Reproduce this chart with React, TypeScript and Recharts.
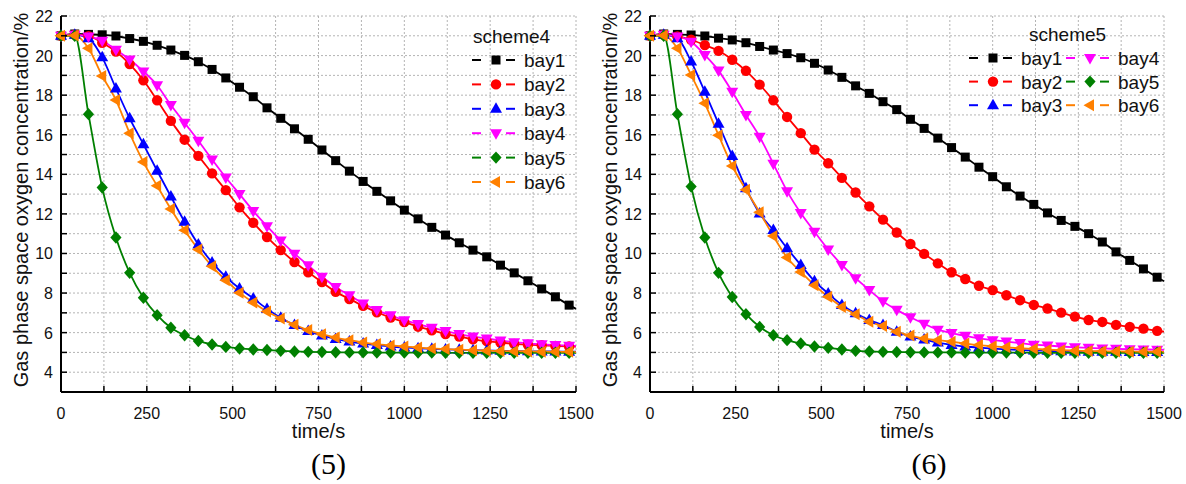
import React from 'react';
import { LineChart, Line, XAxis, YAxis, CartesianGrid, Legend } from 'recharts';

// sampling times (s); markers every 40 s, last row only carries the line to the edge
const time = [0, 40, 80, 120, 160, 200, 240, 280, 320, 360, 400, 440, 480, 520, 560, 600, 640, 680, 720, 760,
    800, 840, 880, 920, 960, 1000, 1040, 1080, 1120, 1160, 1200, 1240, 1280, 1320, 1360, 1400, 1440, 1480, 1500];

// scheme4
const s4Bay1 = [21.0, 21.09, 21.07, 21.05, 20.99, 20.86, 20.72, 20.52, 20.28, 20.01, 19.69, 19.3, 18.87, 18.4, 17.92, 17.36, 16.83, 16.3, 15.77, 15.23,
    14.69, 14.16, 13.64, 13.14, 12.66, 12.19, 11.75, 11.32, 10.93, 10.54, 10.17, 9.83, 9.41, 9.02, 8.62, 8.21, 7.81, 7.39, 7.2];
const s4Bay2 = [21.0, 21.05, 20.98, 20.65, 20.2, 19.57, 18.75, 17.74, 16.7, 15.75, 14.93, 14.05, 13.2, 12.33, 11.55, 10.83, 10.17, 9.57, 9.05, 8.55,
    8.06, 7.7, 7.35, 7.03, 6.76, 6.53, 6.3, 6.12, 5.93, 5.8, 5.66, 5.57, 5.5, 5.43, 5.39, 5.36, 5.33, 5.3, 5.29];
const s4Bay3 = [21.0, 21.05, 20.87, 19.91, 18.34, 16.83, 15.52, 14.18, 12.88, 11.6, 10.45, 9.55, 8.82, 8.23, 7.73, 7.2, 6.75, 6.38, 6.08, 5.86,
    5.68, 5.55, 5.45, 5.37, 5.3, 5.25, 5.21, 5.18, 5.15, 5.13, 5.11, 5.1, 5.08, 5.07, 5.06, 5.05, 5.05, 5.04, 5.04];
const s4Bay4 = [21.0, 21.05, 20.97, 20.75, 20.3, 19.8, 19.2, 18.5, 17.5, 16.6, 15.7, 14.75, 13.84, 13.0, 12.15, 11.38, 10.65, 9.99, 9.4, 8.82,
    8.31, 7.89, 7.47, 7.14, 6.88, 6.63, 6.43, 6.25, 6.08, 5.93, 5.8, 5.7, 5.6, 5.52, 5.46, 5.41, 5.37, 5.34, 5.33];
const s4Bay5 = [21.0, 21.0, 17.04, 13.33, 10.81, 9.02, 7.76, 6.88, 6.25, 5.87, 5.58, 5.4, 5.28, 5.2, 5.15, 5.12, 5.08, 5.05, 5.03, 5.02,
    5.01, 5.0, 5.0, 4.99, 4.99, 4.99, 4.99, 4.99, 4.98, 4.98, 4.98, 4.98, 4.98, 4.98, 4.98, 4.98, 4.98, 4.98, 4.98];
const s4Bay6 = [21.0, 21.02, 20.37, 18.97, 17.75, 16.08, 14.62, 13.42, 12.25, 11.17, 10.2, 9.35, 8.65, 8.02, 7.52, 7.07, 6.72, 6.4, 6.13, 5.92,
    5.75, 5.62, 5.5, 5.42, 5.35, 5.3, 5.25, 5.2, 5.17, 5.14, 5.11, 5.09, 5.07, 5.06, 5.05, 5.04, 5.03, 5.03, 5.02];

// scheme5
const s5Bay1 = [21.0, 21.09, 21.07, 21.04, 20.99, 20.88, 20.79, 20.65, 20.46, 20.28, 20.1, 19.89, 19.61, 19.27, 18.9, 18.47, 18.09, 17.67, 17.27, 16.78,
    16.32, 15.83, 15.35, 14.87, 14.36, 13.88, 13.37, 12.9, 12.48, 12.05, 11.67, 11.37, 11.0, 10.58, 10.08, 9.65, 9.22, 8.8, 8.6];
const s5Bay2 = [21.0, 21.05, 20.97, 20.8, 20.53, 20.24, 19.79, 19.23, 18.53, 17.74, 16.9, 16.08, 15.25, 14.56, 13.82, 13.08, 12.38, 11.71, 11.06, 10.48,
    9.98, 9.5, 9.05, 8.71, 8.37, 8.15, 7.89, 7.64, 7.4, 7.22, 7.01, 6.81, 6.64, 6.54, 6.39, 6.29, 6.2, 6.09, 6.05];
const s5Bay3 = [21.0, 21.05, 20.87, 19.7, 18.17, 16.55, 14.92, 13.3, 12.02, 11.18, 10.26, 9.42, 8.6, 7.98, 7.4, 6.98, 6.64, 6.38, 6.05, 5.8,
    5.65, 5.5, 5.38, 5.3, 5.24, 5.19, 5.15, 5.12, 5.1, 5.08, 5.06, 5.05, 5.04, 5.03, 5.03, 5.02, 5.02, 5.02, 5.01];
const s5Bay4 = [21.0, 21.05, 20.97, 20.7, 20.03, 19.24, 18.17, 17.0, 15.9, 14.53, 13.15, 12.04, 11.1, 10.2, 9.42, 8.75, 8.15, 7.58, 7.15, 6.78,
    6.45, 6.15, 5.98, 5.84, 5.71, 5.62, 5.55, 5.47, 5.39, 5.35, 5.3, 5.26, 5.23, 5.2, 5.18, 5.16, 5.15, 5.14, 5.13];
const s5Bay5 = [21.0, 21.0, 17.04, 13.38, 10.81, 9.02, 7.8, 6.93, 6.29, 5.87, 5.62, 5.45, 5.3, 5.23, 5.15, 5.08, 5.05, 5.03, 5.02, 5.01,
    5.0, 5.0, 5.0, 4.99, 4.99, 4.99, 4.99, 4.99, 4.98, 4.98, 4.98, 4.98, 4.98, 4.98, 4.98, 4.98, 4.98, 4.98, 4.98];
const s5Bay6 = [21.0, 21.02, 20.37, 19.02, 17.59, 15.98, 14.42, 13.22, 12.08, 10.88, 9.8, 9.07, 8.4, 7.81, 7.3, 6.93, 6.55, 6.33, 6.05, 5.85,
    5.7, 5.62, 5.54, 5.45, 5.37, 5.31, 5.26, 5.21, 5.18, 5.14, 5.11, 5.09, 5.07, 5.06, 5.05, 5.04, 5.04, 5.03, 5.03];

const bayNames = ['bay1', 'bay2', 'bay3', 'bay4', 'bay5', 'bay6'];
const bayColors = ['#000000', '#ff0000', '#0000ff', '#ff00ff', '#008000', '#ff8000'];
const bayShapes = ['square', 'circle', 'up', 'down', 'diamond', 'left'];

const xTicks = [0, 125, 250, 375, 500, 625, 750, 875, 1000, 1125, 1250, 1375, 1500];
const yTicks = [3, 4, 5, 6, 7, 8, 9, 10, 11, 12, 13, 14, 15, 16, 17, 18, 19, 20, 21, 22];

const FONT = '"Liberation Sans", Arial, sans-serif';
const SERIF = '"Liberation Serif", "Times New Roman", serif';

function buildRows(series: number[][]) {
    return time.map((t, i) => {
        const row: any = { t };
        series.forEach((s, k) => { row[bayNames[k]] = s[i]; });
        return row;
    });
}

function Marker({ cx, cy, shape, color }: any) {
    switch (shape) {
        case 'square':
            return <rect x={cx - 4.5} y={cy - 4.5} width={9} height={9} fill={color} />;
        case 'circle':
            return <circle cx={cx} cy={cy} r={5.2} fill={color} />;
        case 'up':
            return <polygon points={`${cx},${cy - 6.5} ${cx + 6},${cy + 4} ${cx - 6},${cy + 4}`} fill={color} />;
        case 'down':
            return <polygon points={`${cx},${cy + 6.5} ${cx + 6},${cy - 4} ${cx - 6},${cy - 4}`} fill={color} />;
        case 'diamond':
            return <polygon points={`${cx},${cy - 6.2} ${cx + 5.6},${cy} ${cx},${cy + 6.2} ${cx - 5.6},${cy}`} fill={color} />;
        default:
            return <polygon points={`${cx - 6.5},${cy} ${cx + 4},${cy - 6} ${cx + 4},${cy + 6}`} fill={color} />;
    }
}

const XTick = ({ x, y, payload }: any) => (
    <g>
        <line x1={x} x2={x} y1={y} y2={y - 6} stroke="#000" strokeWidth={1.5} />
        {payload.value % 250 === 0 && (
            <text x={x} y={y + 27} textAnchor="middle" fontSize={16} fill="#111" fontFamily={FONT}>{payload.value}</text>
        )}
    </g>
);

const YTickLeft = ({ x, y, payload }: any) => (
    <g>
        <line x1={x} x2={x + 6} y1={y} y2={y} stroke="#000" strokeWidth={1.5} />
        {payload.value % 2 === 0 && payload.value >= 4 && (
            <text x={x - 8} y={y + 6} textAnchor="end" fontSize={16} fill="#111" fontFamily={FONT}>{payload.value}</text>
        )}
    </g>
);

const YTickRight = ({ x, y }: any) => (
    <line x1={x} x2={x - 6} y1={y} y2={y} stroke="#000" strokeWidth={1.5} />
);

function LegendSymbol({ x, y, i }: any) {
    return (
        <g>
            <line x1={x} x2={x + 9} y1={y} y2={y} stroke={bayColors[i]} strokeWidth={2} />
            <Marker cx={x + 24} cy={y} shape={bayShapes[i]} color={bayColors[i]} />
            <line x1={x + 34} x2={x + 43} y1={y} y2={y} stroke={bayColors[i]} strokeWidth={2} />
            <text x={x + 52} y={y + 7} fontSize={19} fill="#111" fontFamily={FONT}>{bayNames[i]}</text>
        </g>
    );
}

function OxygenChart({ series, scheme, caption, legendCols, legendPos, width, rightMargin }: any) {
    const rows = buildRows(series);
    const rowGap = legendCols === 1 ? 24.4 : 23.6;
    const perCol = Math.ceil(bayNames.length / legendCols);

    const legendContent = () => (
        <svg width={200} height={170} style={{ display: 'block', overflow: 'visible' }}>
            <text x={legendPos.titleX} y={19} fontSize={19} fill="#111" fontFamily={FONT}>{scheme}</text>
            {bayNames.map((n, i) => (
                <LegendSymbol key={n} i={i} x={2 + Math.floor(i / perCol) * 97} y={36 + (i % perCol) * rowGap} />
            ))}
        </svg>
    );

    return (
        <LineChart width={width} height={484} data={rows}
            margin={{ top: 16, right: rightMargin, bottom: 62, left: 11 }}
            style={{ fontFamily: FONT }}>
            <CartesianGrid stroke="#b4b4b4" strokeDasharray="2 2" strokeWidth={1} />
            <XAxis dataKey="t" type="number" domain={[0, 1500]} ticks={xTicks} interval={0}
                tickSize={0} tickMargin={0} tickLine={false} height={30}
                axisLine={{ stroke: '#000', strokeWidth: 2 }} tick={<XTick />}
                label={(p: any) => {
                    const vb = p.viewBox || { x: 61, y: 392, width: 515 };
                    const cx = vb.x + vb.width / 2;
                    return (
                        <g>
                            <text x={cx} y={vb.y + 46} textAnchor="middle" fontSize={20} fill="#111" fontFamily={FONT}>time/s</text>
                            <text x={cx + caption.dx} y={vb.y + 82} textAnchor="middle" fontSize={30} fill="#000" fontFamily={SERIF}>{caption.text}</text>
                        </g>
                    );
                }} />
            <XAxis xAxisId="top" orientation="top" dataKey="t" type="number" domain={[0, 1500]} height={0}
                tick={false} tickLine={false} axisLine={{ stroke: '#000', strokeWidth: 2 }} />
            <YAxis type="number" domain={[3, 22]} ticks={yTicks} interval={0} width={50}
                tickSize={0} tickMargin={0} tickLine={false}
                axisLine={{ stroke: '#000', strokeWidth: 2 }} tick={<YTickLeft />}
                label={(p: any) => {
                    const vb = p.viewBox || { x: 11, y: 16, height: 376 };
                    const x = vb.x + 9.5;
                    const y = vb.y + vb.height / 2 - 4;
                    return (
                        <text x={x} y={y} transform={`rotate(-90 ${x} ${y})`} textAnchor="middle" dy="0.36em"
                            fontSize={20} fill="#111" fontFamily={FONT}>Gas phase space oxygen concentration/%</text>
                    );
                }} />
            <YAxis yAxisId="right" orientation="right" type="number" domain={[3, 22]} ticks={yTicks} interval={0} width={0}
                tickSize={0} tickMargin={0} tickLine={false}
                axisLine={{ stroke: '#000', strokeWidth: 2 }} tick={<YTickRight />} />
            <Legend layout="vertical" align="center" verticalAlign="middle" content={legendContent}
                wrapperStyle={{ left: legendPos.left, top: legendPos.top, width: 200, height: 170 }} />
            {bayNames.map((n, k) => (
                <Line key={n} dataKey={n} type="monotone" stroke={bayColors[k]} strokeWidth={1.8}
                    isAnimationActive={false} activeDot={false}
                    dot={(p: any) => (
                        <g key={`${n}-${p.index}`}>
                            {p.payload.t % 40 === 0 && <Marker cx={p.cx} cy={p.cy} shape={bayShapes[k]} color={bayColors[k]} />}
                        </g>
                    )} />
            ))}
        </LineChart>
    );
}

export default function App() {
    return (
        <div style={{ position: 'absolute', left: 0, top: 0, width: 1186, height: 484, background: '#fff' }}>
            <div style={{ position: 'absolute', left: 0, top: 0 }}>
                <OxygenChart series={[s4Bay1, s4Bay2, s4Bay3, s4Bay4, s4Bay5, s4Bay6]} scheme="scheme4"
                    caption={{ text: '(5)', dx: 10 }} legendCols={1} width={610} rightMargin={34}
                    legendPos={{ left: 470, top: 24, titleX: 3 }} />
            </div>
            <div style={{ position: 'absolute', left: 589, top: 0 }}>
                <OxygenChart series={[s5Bay1, s5Bay2, s5Bay3, s5Bay4, s5Bay5, s5Bay6]} scheme="scheme5"
                    caption={{ text: '(6)', dx: 22 }} legendCols={2} width={597} rightMargin={22}
                    legendPos={{ left: 378, top: 22, titleX: 62 }} />
            </div>
        </div>
    );
}
